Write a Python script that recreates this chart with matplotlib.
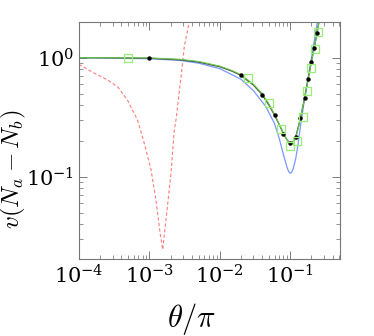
import matplotlib
matplotlib.use("Agg")
import matplotlib.pyplot as plt
import numpy as np

plt.rcParams['mathtext.fontset'] = 'cm'
plt.rcParams['font.family'] = 'serif'
plt.rcParams['font.serif'] = ['DejaVu Serif']

# theory curve (black)
theory_x = [1e-4, 3e-4, 1e-3, 2.7e-3, 5e-3, 0.01, 0.015, 0.02, 0.03, 0.04, 0.05, 0.06, 0.07,
            0.08, 0.09, 0.10, 0.11, 0.12, 0.13, 0.14, 0.16, 0.18, 0.20, 0.22, 0.24, 0.26]
theory_y = [1.0, 0.998, 0.99, 0.96, 0.92, 0.84, 0.77, 0.71, 0.59, 0.49, 0.40, 0.33, 0.275,
            0.23, 0.205, 0.19, 0.197, 0.217, 0.26, 0.31, 0.456, 0.66, 0.925, 1.21, 1.6, 2.1]

# green curve
green_x = theory_x
green_y = [1.0, 0.999, 0.995, 0.97, 0.93, 0.85, 0.78, 0.72, 0.60, 0.50, 0.41, 0.335, 0.278,
           0.232, 0.205, 0.188, 0.192, 0.212, 0.255, 0.31, 0.45, 0.655, 0.92, 1.2, 1.58, 2.05]

# blue curve
blue_x = [1e-4, 1e-3, 2.7e-3, 5e-3, 0.01, 0.02, 0.03, 0.045, 0.06, 0.07, 0.08, 0.09, 0.095,
          0.10, 0.105, 0.11, 0.12, 0.13, 0.14, 0.16, 0.18, 0.20, 0.22, 0.24, 0.26]
blue_y = [1.0, 0.98, 0.95, 0.90, 0.81, 0.66, 0.53, 0.39, 0.28, 0.21, 0.155, 0.121, 0.111,
          0.107, 0.109, 0.116, 0.142, 0.19, 0.265, 0.45, 0.68, 0.98, 1.38, 1.9, 2.5]

# red dashed curve
red_x = [1e-4, 1.66e-4, 2.56e-4, 3.55e-4, 4.9e-4, 6.8e-4, 8.5e-4, 1.06e-3, 1.24e-3, 1.43e-3,
         1.55e-3, 1.72e-3, 2.03e-3, 2.26e-3, 2.39e-3, 2.82e-3, 3.14e-3, 3.69e-3]
red_y = [0.88, 0.74, 0.65, 0.57, 0.44, 0.30, 0.19, 0.114, 0.064, 0.033,
         0.0245, 0.043, 0.107, 0.247, 0.30, 0.69, 1.24, 2.0]

# black dots
dot_x = [0.001, 0.02, 0.04, 0.06, 0.08, 0.10, 0.12, 0.14, 0.16, 0.18, 0.20, 0.22, 0.24]
dot_y = [0.99, 0.71, 0.49, 0.33, 0.23, 0.193, 0.217, 0.31, 0.456, 0.66, 0.925, 1.21, 1.60]

# green squares
sq_x = [0.0005, 0.025, 0.05, 0.075, 0.10, 0.125, 0.15, 0.175, 0.20, 0.225, 0.25]
sq_y = [1.0, 0.675, 0.414, 0.25, 0.181, 0.20, 0.316, 0.525, 0.82, 1.19, 1.63]

fig = plt.figure(figsize=(3.74, 3.36), dpi=100)
ax = fig.add_axes([0.211, 0.229, 0.698, 0.706])

ax.plot(red_x, red_y, ls='--', color='#ff7c7c', lw=0.8, dashes=(3, 2))
ax.plot(blue_x, blue_y, color='#7898ff', lw=0.9)
ax.plot(theory_x, theory_y, color='#444444', lw=0.9)
ax.plot(green_x, green_y, color='#66cc44', lw=0.8)
ax.plot(dot_x, dot_y, ls='none', marker='o', color='black', ms=2.2)
ax.plot(sq_x, sq_y, ls='none', marker='s', mfc='none', mec='#99ee77', ms=6, mew=0.9)

ax.set_xscale('log')
ax.set_yscale('log')
ax.set_xlim(1e-4, 0.51)
ax.set_ylim(0.0204, 2.0)

ax.tick_params(which='both', direction='in', top=True, right=True, labelsize=15, colors='black')
ax.tick_params(which='major', length=6, width=0.6, color='#666666')
ax.tick_params(which='minor', length=3, width=0.5, color='#666666')
ax.xaxis.set_major_locator(matplotlib.ticker.LogLocator(base=10, numticks=10))
ax.xaxis.set_minor_locator(matplotlib.ticker.LogLocator(base=10, subs=np.arange(2, 10), numticks=20))
ax.yaxis.set_minor_locator(matplotlib.ticker.LogLocator(base=10, subs=np.arange(2, 10), numticks=20))
ax.xaxis.set_minor_formatter(matplotlib.ticker.NullFormatter())
ax.yaxis.set_minor_formatter(matplotlib.ticker.NullFormatter())
for s in ax.spines.values():
    s.set_color('#777777')
    s.set_linewidth(0.8)

ax.set_xlabel(r'$\theta/\pi$', fontsize=22)
ax.set_ylabel(r'$v(N_a-N_b)$', fontsize=18)
ax.xaxis.set_label_coords(0.43, -0.175)
ax.yaxis.set_label_coords(-0.195, 0.38)

fig.savefig('out.png', dpi=100)
